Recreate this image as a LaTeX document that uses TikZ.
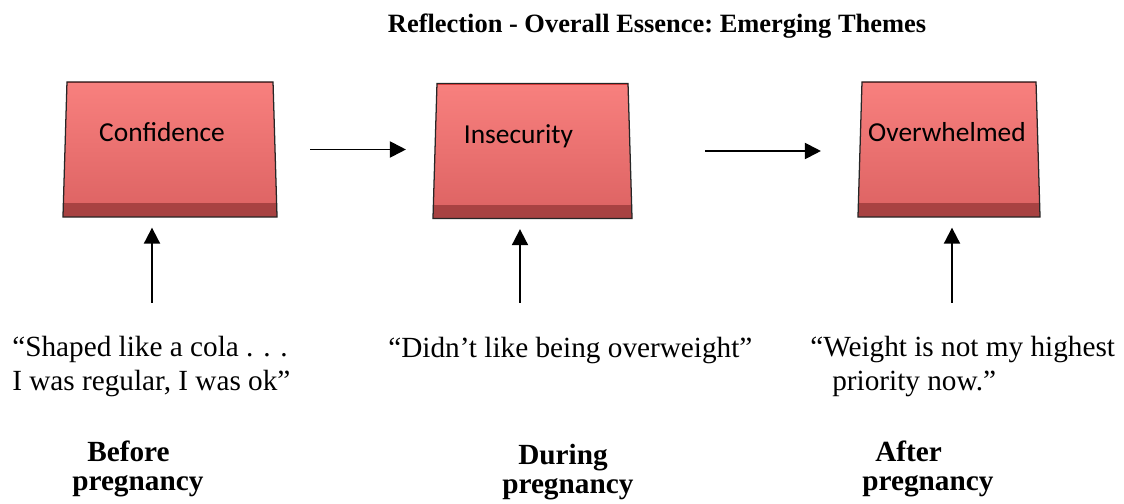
\documentclass[tikz,border=0pt]{standalone}
\usepackage{fontspec}
\setmainfont{Liberation Serif}
\newfontfamily\boxfont{Carlito}
\usetikzlibrary{arrows.meta, shapes.geometric, calc}
\definecolor{boxtop}{RGB}{248,128,126}
\definecolor{boxbottom}{RGB}{220,98,98}
\definecolor{boxbevel}{RGB}{168,66,66}
\definecolor{boxedge}{RGB}{236,64,64}
\tikzset{
    theme-box/.style={
        trapezium, trapezium left angle=86.2, trapezium right angle=86.2,
        trapezium stretches body=true,
        minimum height=3.375cm, text height=0.45cm, text depth=0.825cm,
        draw=black!85, line width=0.9pt,
        top color=boxtop, bottom color=boxbottom,
        font=\boxfont\fontsize{19.5}{22}\selectfont,
        path picture={
            \fill[boxbevel] ([yshift=0.35cm]path picture bounding box.south west)
                rectangle (path picture bounding box.south east);
            \draw[boxedge, line width=1.6pt] (path picture bounding box.north west)
                -- (path picture bounding box.north east);
        }
    },
    flow-arrow/.style={
        -{Triangle[length=0.4cm, width=0.4cm]}, line width=1.4pt
    },
    quote-text/.style={
        inner sep=0pt, align=left, font=\fontsize{20.8}{23.5}\selectfont
    },
    stage-text/.style={
        inner sep=0pt, align=left, font=\bfseries\fontsize{20.8}{20}\selectfont
    },
}

\begin{document}
\begin{tikzpicture}[x=0.025cm, y=-0.025cm]

        \useasboundingbox (0,0) rectangle (1124,504);

        % TITLE
        \node[anchor=base, font=\bfseries\frenchspacing\fontsize{18.8}{22}\selectfont] (title) at (657,33)
            {Reflection - Overall Essence: Emerging Themes};

        % THEMES
        \node[theme-box, minimum width=5.35cm]  (conf)  at (170,149.5)   {Confidence\hspace*{0.4cm}};
        \node[theme-box, minimum width=4.975cm] (insec) at (532.5,151)   {Insecurity\hspace*{0.7cm}};
        \node[theme-box, minimum width=4.55cm]  (over)  at (949,149.5)   {Overwhelmed\hspace*{0.1cm}};

        % QUOTES (anchored at the baseline of the last line)
        \node[quote-text, anchor=base west] (qbefore) at (12,390)
            {“Shaped like a cola . . .\\I was regular, I was ok”};
        \node[quote-text, anchor=base west] (qduring) at (388,357)
            {“Didn’t like being overweight”};
        \node[quote-text, anchor=base west] (qafter)  at (810,390)
            {“Weight is not my highest\\\hspace*{0.55cm}priority now.”};

        % STAGES
        \node[stage-text, anchor=base west] (before) at (72,490)
            {\hspace*{0.375cm}Before\\pregnancy};
        \node[stage-text, anchor=base west] (during) at (502,493)
            {\hspace*{0.4cm}During\\pregnancy};
        \node[stage-text, anchor=base west] (after)  at (862,490)
            {\hspace*{0.325cm}After\\pregnancy};

        % ARROW TAILS
        \coordinate (tbefore) at (152,303);
        \coordinate (tduring) at (520,303);
        \coordinate (tafter)  at (952,303);

        % THEME CONNECTIONS
        \draw[flow-arrow, shorten <=0.86cm, shorten >=0.71cm] (conf.east)  -- (conf.east -| insec.west);
        \draw[flow-arrow, shorten <=1.86cm, shorten >=0.96cm] (insec.east) -- (insec.east -| over.west);

        % QUOTE CONNECTIONS
        \draw[flow-arrow, shorten >=0.25cm] (tbefore) -- (tbefore |- conf.south);
        \draw[flow-arrow, shorten >=0.25cm] (tduring) -- (tduring |- insec.south);
        \draw[flow-arrow, shorten >=0.25cm] (tafter)  -- (tafter |- over.south);

    \end{tikzpicture}
\end{document}
